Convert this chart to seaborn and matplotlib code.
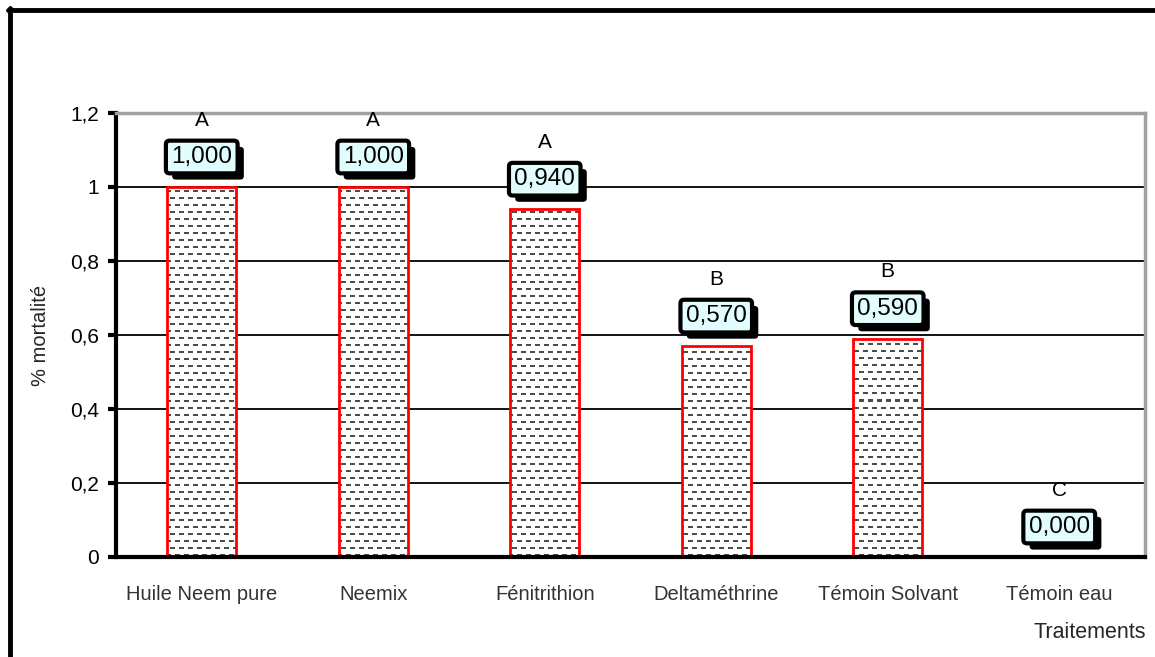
import numpy as np
import pandas as pd
import matplotlib
matplotlib.use("Agg")
import matplotlib.pyplot as plt
import matplotlib.patheffects as pe
import seaborn as sns
from matplotlib.lines import Line2D

# Data
traitements = ["Huile Neem pure", "Neemix", "Fénitrithion", "Deltaméthrine",
               "Témoin Solvant", "Témoin eau"]
mortalite = [1.000, 1.000, 0.940, 0.570, 0.590, 0.000]
groupes = ["A", "A", "A", "B", "B", "C"]
yticks = [0, 0.2, 0.4, 0.6, 0.8, 1.0, 1.2]
ytick_labels = ["0", "0,2", "0,4", "0,6", "0,8", "1", "1,2"]

sns.set_theme(style="white")
plt.rcParams["font.family"] = ["Liberation Sans", "DejaVu Sans"]

DPI = 100
fig = plt.figure(figsize=(11.55, 6.57), dpi=DPI)
fig.patch.set_facecolor("white")
ax = fig.add_axes([116 / 1155, 1 - 557 / 657, (1145 - 116) / 1155, (557 - 113) / 657])

df = pd.DataFrame({"traitement": traitements, "mortalite": mortalite})
sns.barplot(data=df, x="traitement", y="mortalite", ax=ax, color="white",
            edgecolor="red", linewidth=2, width=0.4, saturation=1)

ax.set_ylim(0, 1.2)
ax.set_xlim(-0.5, len(traitements) - 0.5)

# Dashed fill texture, clipped to each bar
W, H = 1029, 444
tex = np.ones((H, W))
period, dash, gap = 7, 5, 4
for r in range(0, H, period):
    shift = 0 if (r // period) % 2 == 0 else (dash + gap) // 2
    for c in range(-shift, W, dash + gap):
        c0, c1 = max(c, 0), min(c + dash, W)
        if c1 > c0:
            tex[r:r + 2, c0:c1] = 0.3
for p in list(ax.patches):
    p.set_facecolor("none")
    p.set_zorder(3)
    im = ax.imshow(tex, cmap="gray", vmin=0, vmax=1,
                   extent=[-0.5, len(traitements) - 0.5, 0, 1.2],
                   aspect="auto", interpolation="nearest", origin="upper", zorder=2)
    im.set_clip_path(p)
ax.set_xlim(-0.5, len(traitements) - 0.5)
ax.set_ylim(0, 1.2)

# Axes styling
ax.set_yticks(yticks)
ax.set_yticklabels(ytick_labels, fontsize=15, color="black")
ax.tick_params(axis="y", direction="out", length=6, width=3, color="black", pad=6, left=True)
ax.tick_params(axis="x", length=0, pad=20, labelsize=14.5, labelcolor="#333333")
ax.yaxis.grid(True, color="black", linewidth=1.3)
ax.set_axisbelow(True)
ax.set_xlabel("")
ax.set_ylabel("")
for side in ("left", "bottom"):
    ax.spines[side].set_color("black")
    ax.spines[side].set_linewidth(3)
for side in ("top", "right"):
    ax.spines[side].set_color("#a0a0a0")
    ax.spines[side].set_linewidth(2.5)
for s in ax.spines.values():
    s.set_visible(True)
    s.set_zorder(4)

# Value boxes with a drop shadow, and group letters above them
px = 72.0 / DPI
for i, (v, g) in enumerate(zip(mortalite, groupes)):
    label = f"{v:.3f}".replace(".", ",")
    t = ax.annotate(label, xy=(i, v), xytext=(0, 30 * px), textcoords="offset points",
                    ha="center", va="center", fontsize=17.5, color="black", zorder=6,
                    bbox=dict(boxstyle="round,pad=0.22,rounding_size=0.15", fc="#e2fdfd",
                              ec="black", lw=3))
    t.get_bbox_patch().set_path_effects([
        pe.SimplePatchShadow(offset=(4.5, -4.5), shadow_rgbFace="black", alpha=1),
        pe.Normal()])
    ax.annotate(g, xy=(i, v), xytext=(0, 67 * px), textcoords="offset points",
                ha="center", va="center", fontsize=15, color="black", zorder=6)

fig.text(40 / 1155, 1 - 335 / 657, "% mortalité", rotation=90, ha="center", va="center",
         fontsize=14.5)
fig.text(1090 / 1155, 1 - 633 / 657, "Traitements", ha="center", va="center", fontsize=15.5)

# Frame lines on the top and left edges of the figure
fig.add_artist(Line2D([8 / 1155, 1], [1 - 10 / 657, 1 - 10 / 657], color="black", lw=3.5,
                      transform=fig.transFigure))
fig.add_artist(Line2D([10 / 1155, 10 / 1155], [0, 1 - 8 / 657], color="black", lw=3.5,
                      transform=fig.transFigure))

fig.savefig("out.png", dpi=DPI, facecolor="white")
